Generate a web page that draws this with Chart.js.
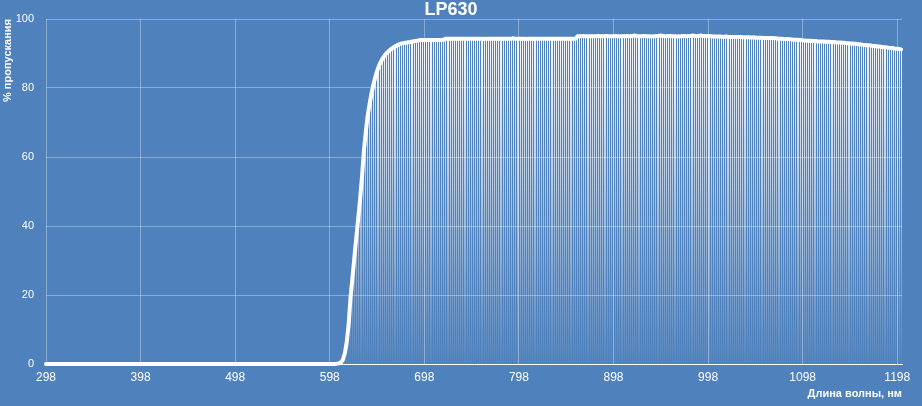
<!DOCTYPE html>
<html>
<head>
<meta charset="utf-8">
<script src="https://cdn.jsdelivr.net/npm/chart.js@4.4.1/dist/chart.umd.min.js"></script>
<style>
  html, body { margin: 0; padding: 0; background: #4F81BD; }
  #wrap { width: 922px; height: 406px; }
</style>
</head>
<body>
<div id="wrap"><canvas id="c" width="922" height="406"></canvas></div>
<script>
const chartTitle = 'LP630';
const xTitle = 'Длина волны, нм';
const yTitle = '% пропускания';
const xTickLabels = [298, 398, 498, 598, 698, 798, 898, 998, 1098, 1198];
const yTickLabels = [0, 20, 40, 60, 80, 100];

// wavelength, nm (rows of 10)
const wavelengths = [
  298,300,302,304,306,308,310,312,314,316,
  318,320,322,324,326,328,330,332,334,336,
  338,340,342,344,346,348,350,352,354,356,
  358,360,362,364,366,368,370,372,374,376,
  378,380,382,384,386,388,390,392,394,396,
  398,400,402,404,406,408,410,412,414,416,
  418,420,422,424,426,428,430,432,434,436,
  438,440,442,444,446,448,450,452,454,456,
  458,460,462,464,466,468,470,472,474,476,
  478,480,482,484,486,488,490,492,494,496,
  498,500,502,504,506,508,510,512,514,516,
  518,520,522,524,526,528,530,532,534,536,
  538,540,542,544,546,548,550,552,554,556,
  558,560,562,564,566,568,570,572,574,576,
  578,580,582,584,586,588,590,592,594,596,
  598,600,602,604,606,608,610,612,614,616,
  618,620,622,624,626,628,630,632,634,636,
  638,640,642,644,646,648,650,652,654,656,
  658,660,662,664,666,668,670,672,674,676,
  678,680,682,684,686,688,690,692,694,696,
  698,700,702,704,706,708,710,712,714,716,
  718,720,722,724,726,728,730,732,734,736,
  738,740,742,744,746,748,750,752,754,756,
  758,760,762,764,766,768,770,772,774,776,
  778,780,782,784,786,788,790,792,794,796,
  798,800,802,804,806,808,810,812,814,816,
  818,820,822,824,826,828,830,832,834,836,
  838,840,842,844,846,848,850,852,854,856,
  858,860,862,864,866,868,870,872,874,876,
  878,880,882,884,886,888,890,892,894,896,
  898,900,902,904,906,908,910,912,914,916,
  918,920,922,924,926,928,930,932,934,936,
  938,940,942,944,946,948,950,952,954,956,
  958,960,962,964,966,968,970,972,974,976,
  978,980,982,984,986,988,990,992,994,996,
  998,1000,1002,1004,1006,1008,1010,1012,1014,1016,
  1018,1020,1022,1024,1026,1028,1030,1032,1034,1036,
  1038,1040,1042,1044,1046,1048,1050,1052,1054,1056,
  1058,1060,1062,1064,1066,1068,1070,1072,1074,1076,
  1078,1080,1082,1084,1086,1088,1090,1092,1094,1096,
  1098,1100,1102,1104,1106,1108,1110,1112,1114,1116,
  1118,1120,1122,1124,1126,1128,1130,1132,1134,1136,
  1138,1140,1142,1144,1146,1148,1150,1152,1154,1156,
  1158,1160,1162,1164,1166,1168,1170,1172,1174,1176,
  1178,1180,1182,1184,1186,1188,1190,1192,1194,1196,
  1198,1200,1202
];

// transmission, % (rows match wavelengths)
const transmission = [
  0,0,0,0,0,0,0,0,0,0,
  0,0,0,0,0,0,0,0,0,0,
  0,0,0,0,0,0,0,0,0,0,
  0,0,0,0,0,0,0,0,0,0,
  0,0,0,0,0,0,0,0,0,0,
  0,0,0,0,0,0,0,0,0,0,
  0,0,0,0,0,0,0,0,0,0,
  0,0,0,0,0,0,0,0,0,0,
  0,0,0,0,0,0,0,0,0,0,
  0,0,0,0,0,0,0,0,0,0,
  0,0,0,0,0,0,0,0,0,0,
  0,0,0,0,0,0,0,0,0,0,
  0,0,0,0,0,0,0,0,0,0,
  0,0,0,0,0,0,0,0,0,0,
  0,0,0,0,0,0,0,0,0,0,
  0,0,0,0,0.1,0.2,0.5,1.3,3.2,6.5,
  11.5,19.5,25,30.8,36.5,42,47.5,54,61.5,67,
  71.8,75.2,78.2,80.8,83,84.9,86.4,87.6,88.6,89.4,
  90.1,90.6,91.1,91.5,91.9,92.2,92.5,92.7,92.9,93.0,
  93.1,93.2,93.3,93.4,93.5,93.6,93.7,93.8,93.9,93.9,
  93.9,93.9,93.9,93.9,93.9,93.9,93.9,93.9,93.9,93.9,
  93.9,94.3,94.3,94.3,94.3,94.3,94.3,94.3,94.3,94.3,
  94.3,94.3,94.3,94.3,94.3,94.3,94.3,94.3,94.3,94.3,
  94.3,94.2,94.3,94.3,94.3,94.3,94.3,94.3,94.3,94.3,
  94.3,94.3,94.3,94.3,94.3,94.3,94.3,94.4,94.3,94.3,
  94.3,94.3,94.3,94.3,94.2,94.3,94.3,94.3,94.3,94.3,
  94.3,94.3,94.3,94.3,94.3,94.3,94.3,94.3,94.3,94.3,
  94.3,94.3,94.3,94.3,94.3,94.3,94.3,94.3,94.3,94.3,
  94.3,95.0,95.0,95.0,95.1,95.0,95.0,95.0,95.0,95.0,
  95.0,95.0,95.1,95.0,95.0,95.0,95.1,95.0,95.0,95.0,
  95.0,95.1,95.0,95.0,95.0,95.0,95.0,95.1,95.0,95.0,
  95.1,95.2,95.1,95.0,95.0,95.0,95.1,95.0,95.0,95.0,
  94.9,95.0,95.0,95.1,95.1,95.2,95.1,95.0,95.0,95.1,
  95.1,95.0,95.0,95.0,94.9,95.0,95.0,95.1,95.0,95.0,
  95.1,95.1,95.2,95.1,95.0,95.1,95.2,95.1,95.1,95.0,
  95.1,95.0,95.0,94.9,94.9,94.9,94.9,94.9,94.8,94.9,
  94.9,94.8,94.8,94.8,94.8,94.8,94.8,94.8,94.7,94.7,
  94.7,94.7,94.7,94.6,94.7,94.6,94.6,94.6,94.6,94.5,
  94.5,94.5,94.5,94.5,94.5,94.4,94.4,94.3,94.3,94.3,
  94.2,94.2,94.2,94.1,94.1,94.0,94.0,94.0,93.9,93.9,
  93.8,93.8,93.7,93.7,93.7,93.6,93.6,93.6,93.5,93.5,
  93.5,93.5,93.4,93.4,93.4,93.3,93.3,93.3,93.2,93.2,
  93.2,93.1,93.1,93.0,93.0,92.9,92.9,92.8,92.8,92.7,
  92.7,92.6,92.5,92.5,92.4,92.4,92.3,92.2,92.2,92.1,
  92.0,92.0,91.9,91.8,91.8,91.7,91.6,91.6,91.5,91.4,
  91.4,91.3,91.2
];

const FONT = '"Liberation Sans", Arial, sans-serif';
const GRID = 'rgba(255,255,255,0.33)';

const points = wavelengths.map((w, i) => ({ x: w, y: transmission[i] }));

// Excel-style drop lines from each data point down to the category axis
const dropLines = {
  id: 'dropLines',
  beforeDatasetsDraw(chart) {
    const meta = chart.getDatasetMeta(0);
    const area = chart.chartArea;
    const ctx = chart.ctx;
    const base = chart.scales.y.getPixelForValue(0);
    const g = ctx.createLinearGradient(0, area.top, 0, area.bottom);
    g.addColorStop(0, 'rgba(255,255,255,1)');
    g.addColorStop(0.45, 'rgba(255,255,255,0.6)');
    g.addColorStop(1, 'rgba(255,255,255,0.04)');
    ctx.save();
    ctx.beginPath();
    ctx.rect(area.left, area.top, area.right - area.left, area.bottom - area.top);
    ctx.clip();
    ctx.strokeStyle = g;
    ctx.lineWidth = 1;
    ctx.beginPath();
    meta.data.forEach((pt, i) => {
      if (transmission[i] <= 0) return;
      const x = Math.floor(pt.x) + 0.5;
      ctx.moveTo(x, pt.y);
      ctx.lineTo(x, base);
    });
    ctx.stroke();
    ctx.restore();
  }
};

new Chart(document.getElementById('c'), {
  type: 'line',
  data: {
    datasets: [{
      data: points,
      borderColor: '#ffffff',
      borderWidth: 4,
      pointRadius: 0,
      tension: 0,
      clip: false,
      borderCapStyle: 'round',
      borderJoinStyle: 'round'
    }]
  },
  plugins: [dropLines],
  options: {
    responsive: false,
    animation: false,
    events: [],
    layout: { padding: { left: 0, right: 20, top: 0, bottom: 0 } },
    plugins: {
      legend: { display: false },
      tooltip: { enabled: false },
      title: {
        display: true,
        text: chartTitle,
        color: '#ffffff',
        font: { family: FONT, size: 18, weight: 'bold', lineHeight: 1 },
        padding: { top: 1, bottom: 0 }
      }
    },
    scales: {
      x: {
        type: 'linear',
        min: 298,
        max: 1203,
        afterBuildTicks(scale) {
          scale.ticks = xTickLabels.map(v => ({ value: v }));
        },
        afterFit(scale) { scale.height = 42; },
        ticks: {
          color: '#ffffff',
          font: { family: FONT, size: 12 },
          padding: 6,
          maxRotation: 0,
          autoSkip: false,
          callback: v => String(v)
        },
        grid: { color: GRID, drawTicks: false },
        border: { display: true, color: '#ffffff', width: 1 },
        title: {
          display: true,
          text: xTitle,
          align: 'end',
          color: '#ffffff',
          font: { family: FONT, size: 11, weight: 'bold' },
          padding: { top: 0, bottom: 5 }
        }
      },
      y: {
        min: 0,
        max: 100,
        afterBuildTicks(scale) {
          scale.ticks = yTickLabels.map(v => ({ value: v }));
        },
        afterFit(scale) { scale.width = 46; },
        ticks: {
          color: '#ffffff',
          font: { family: FONT, size: 11 },
          padding: 12
        },
        grid: { color: GRID, drawTicks: false },
        border: { display: false },
        title: {
          display: true,
          text: yTitle,
          align: 'end',
          color: '#ffffff',
          font: { family: FONT, size: 11, weight: 'bold' },
          padding: { top: 1, bottom: 0 }
        }
      }
    }
  }
});
</script>
</body>
</html>
